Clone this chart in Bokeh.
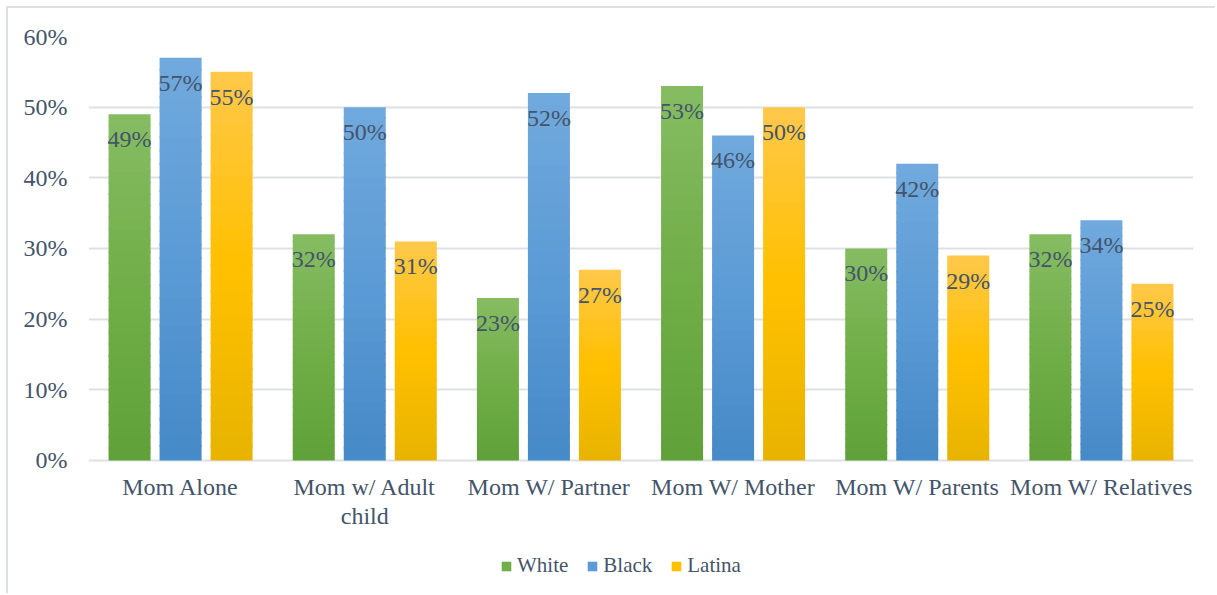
from bokeh.plotting import figure
from bokeh.models import (ColumnDataSource, FactorRange, Range1d, FixedTicker,
                          NumeralTickFormatter, Legend, LegendItem)
from bokeh.transform import dodge
from bokeh.core.properties import value
from bokeh.embed import file_html
from bokeh.resources import INLINE

categories = ["Mom Alone", "Mom w/ Adult\nchild", "Mom W/ Partner", "Mom W/ Mother",
              "Mom W/ Parents", "Mom W/ Relatives"]
series_names = ["White", "Black", "Latina"]
white = [0.49, 0.32, 0.23, 0.53, 0.30, 0.32]
black = [0.57, 0.50, 0.52, 0.46, 0.42, 0.34]
latina = [0.55, 0.31, 0.27, 0.50, 0.29, 0.25]
y_ticks = [0.0, 0.1, 0.2, 0.3, 0.4, 0.5, 0.6]

# gradient stops (top, middle, bottom) per series
grad_stops = {
    "White": ["#86bc63", "#71ae48", "#60a139"],
    "Black": ["#71a9dd", "#5b9bd5", "#4689c8"],
    "Latina": ["#ffc84a", "#ffc000", "#e8b400"],
}
offsets = [-0.277, 0.0, 0.277]
BAR_W = 0.228
N_SEG = 30

FONT = "Liberation Serif"
TXT = "#44546a"
GRID = "#dde1e7"


def hex2rgb(h):
    h = h.lstrip("#")
    return tuple(int(h[i:i + 2], 16) for i in (0, 2, 4))


def mix(c1, c2, t):
    a, b = hex2rgb(c1), hex2rgb(c2)
    return "#%02x%02x%02x" % tuple(round(a[i] + (b[i] - a[i]) * t) for i in range(3))


def grad_color(stops, f):
    # f: 0 at bottom, 1 at top
    top, mid, bot = stops
    if f < 0.5:
        return mix(bot, mid, f / 0.5)
    return mix(mid, top, (f - 0.5) / 0.5)


# frame extends below the zero line so the category labels and legend sit inside it
p = figure(x_range=FactorRange(*categories, range_padding=0),
           y_range=Range1d(-0.184, 0.6),
           width=1209, height=587, output_backend="svg", toolbar_location=None,
           min_border_left=80, min_border_right=24, min_border_top=28,
           min_border_bottom=5, outline_line_color=None,
           background_fill_color="white", border_fill_color="white")
p.styles = {"margin-left": "6px", "margin-top": "6px",
            "border-left": "2px solid #dde1e7", "border-top": "2px solid #dde1e7"}

legend_items = []
for name, vals, off in zip(series_names, [white, black, latina], offsets):
    xs, bottoms, tops, cols = [], [], [], []
    for c, v in zip(categories, vals):
        for k in range(N_SEG):
            f0 = k / N_SEG
            f1 = min(1.0, (k + 1.15) / N_SEG)
            xs.append(c)
            bottoms.append(v * f0)
            tops.append(v * f1)
            cols.append(grad_color(grad_stops[name], (k + 0.5) / N_SEG))
    src = ColumnDataSource(dict(x=xs, bottom=bottoms, top=tops, color=cols))
    r = p.vbar(x=dodge("x", off, range=p.x_range), bottom="bottom", top="top",
               width=BAR_W, source=src, fill_color="color", line_color=None)
    legend_items.append(LegendItem(label=name, renderers=[r], index=N_SEG // 2))

    lab_src = ColumnDataSource(dict(x=categories, y=vals,
                                    t=[f"{round(v * 100)}%" for v in vals]))
    p.text(x=dodge("x", off, range=p.x_range), y="y", text="t", source=lab_src,
           text_font=value(FONT), text_font_size="24px", text_color=TXT,
           text_align="center", text_baseline="top", y_offset=12)

# category labels under the zero line
cat_src = ColumnDataSource(dict(x=categories, y=[0.0] * len(categories), t=categories))
p.text(x="x", y="y", text="t", source=cat_src, text_font=value(FONT),
       text_font_size="24px", text_color=TXT, text_align="center",
       text_baseline="top", y_offset=14, text_line_height=1.1)

# axes
p.xaxis.visible = False
p.yaxis.ticker = FixedTicker(ticks=y_ticks)
p.yaxis.formatter = NumeralTickFormatter(format="0%")
p.yaxis.axis_line_color = None
p.yaxis.major_tick_line_color = None
p.yaxis.minor_tick_line_color = None
p.yaxis.major_label_standoff = 15
p.yaxis.major_label_text_font = FONT
p.yaxis.major_label_text_font_size = "24px"
p.yaxis.major_label_text_color = TXT

p.xgrid.grid_line_color = None
p.ygrid.grid_line_color = GRID
p.ygrid.grid_line_width = 2
p.ygrid.ticker = FixedTicker(ticks=y_ticks)

legend = Legend(items=legend_items, orientation="horizontal",
                location=(412, 12), padding=0, margin=0, spacing=18,
                glyph_width=12, glyph_height=12, label_standoff=5,
                label_height=20, label_text_font=FONT, label_text_font_size="21px",
                label_text_color=TXT, border_line_color=None,
                background_fill_alpha=0)
p.add_layout(legend)

open("out.html", "w").write(file_html(p, INLINE))
